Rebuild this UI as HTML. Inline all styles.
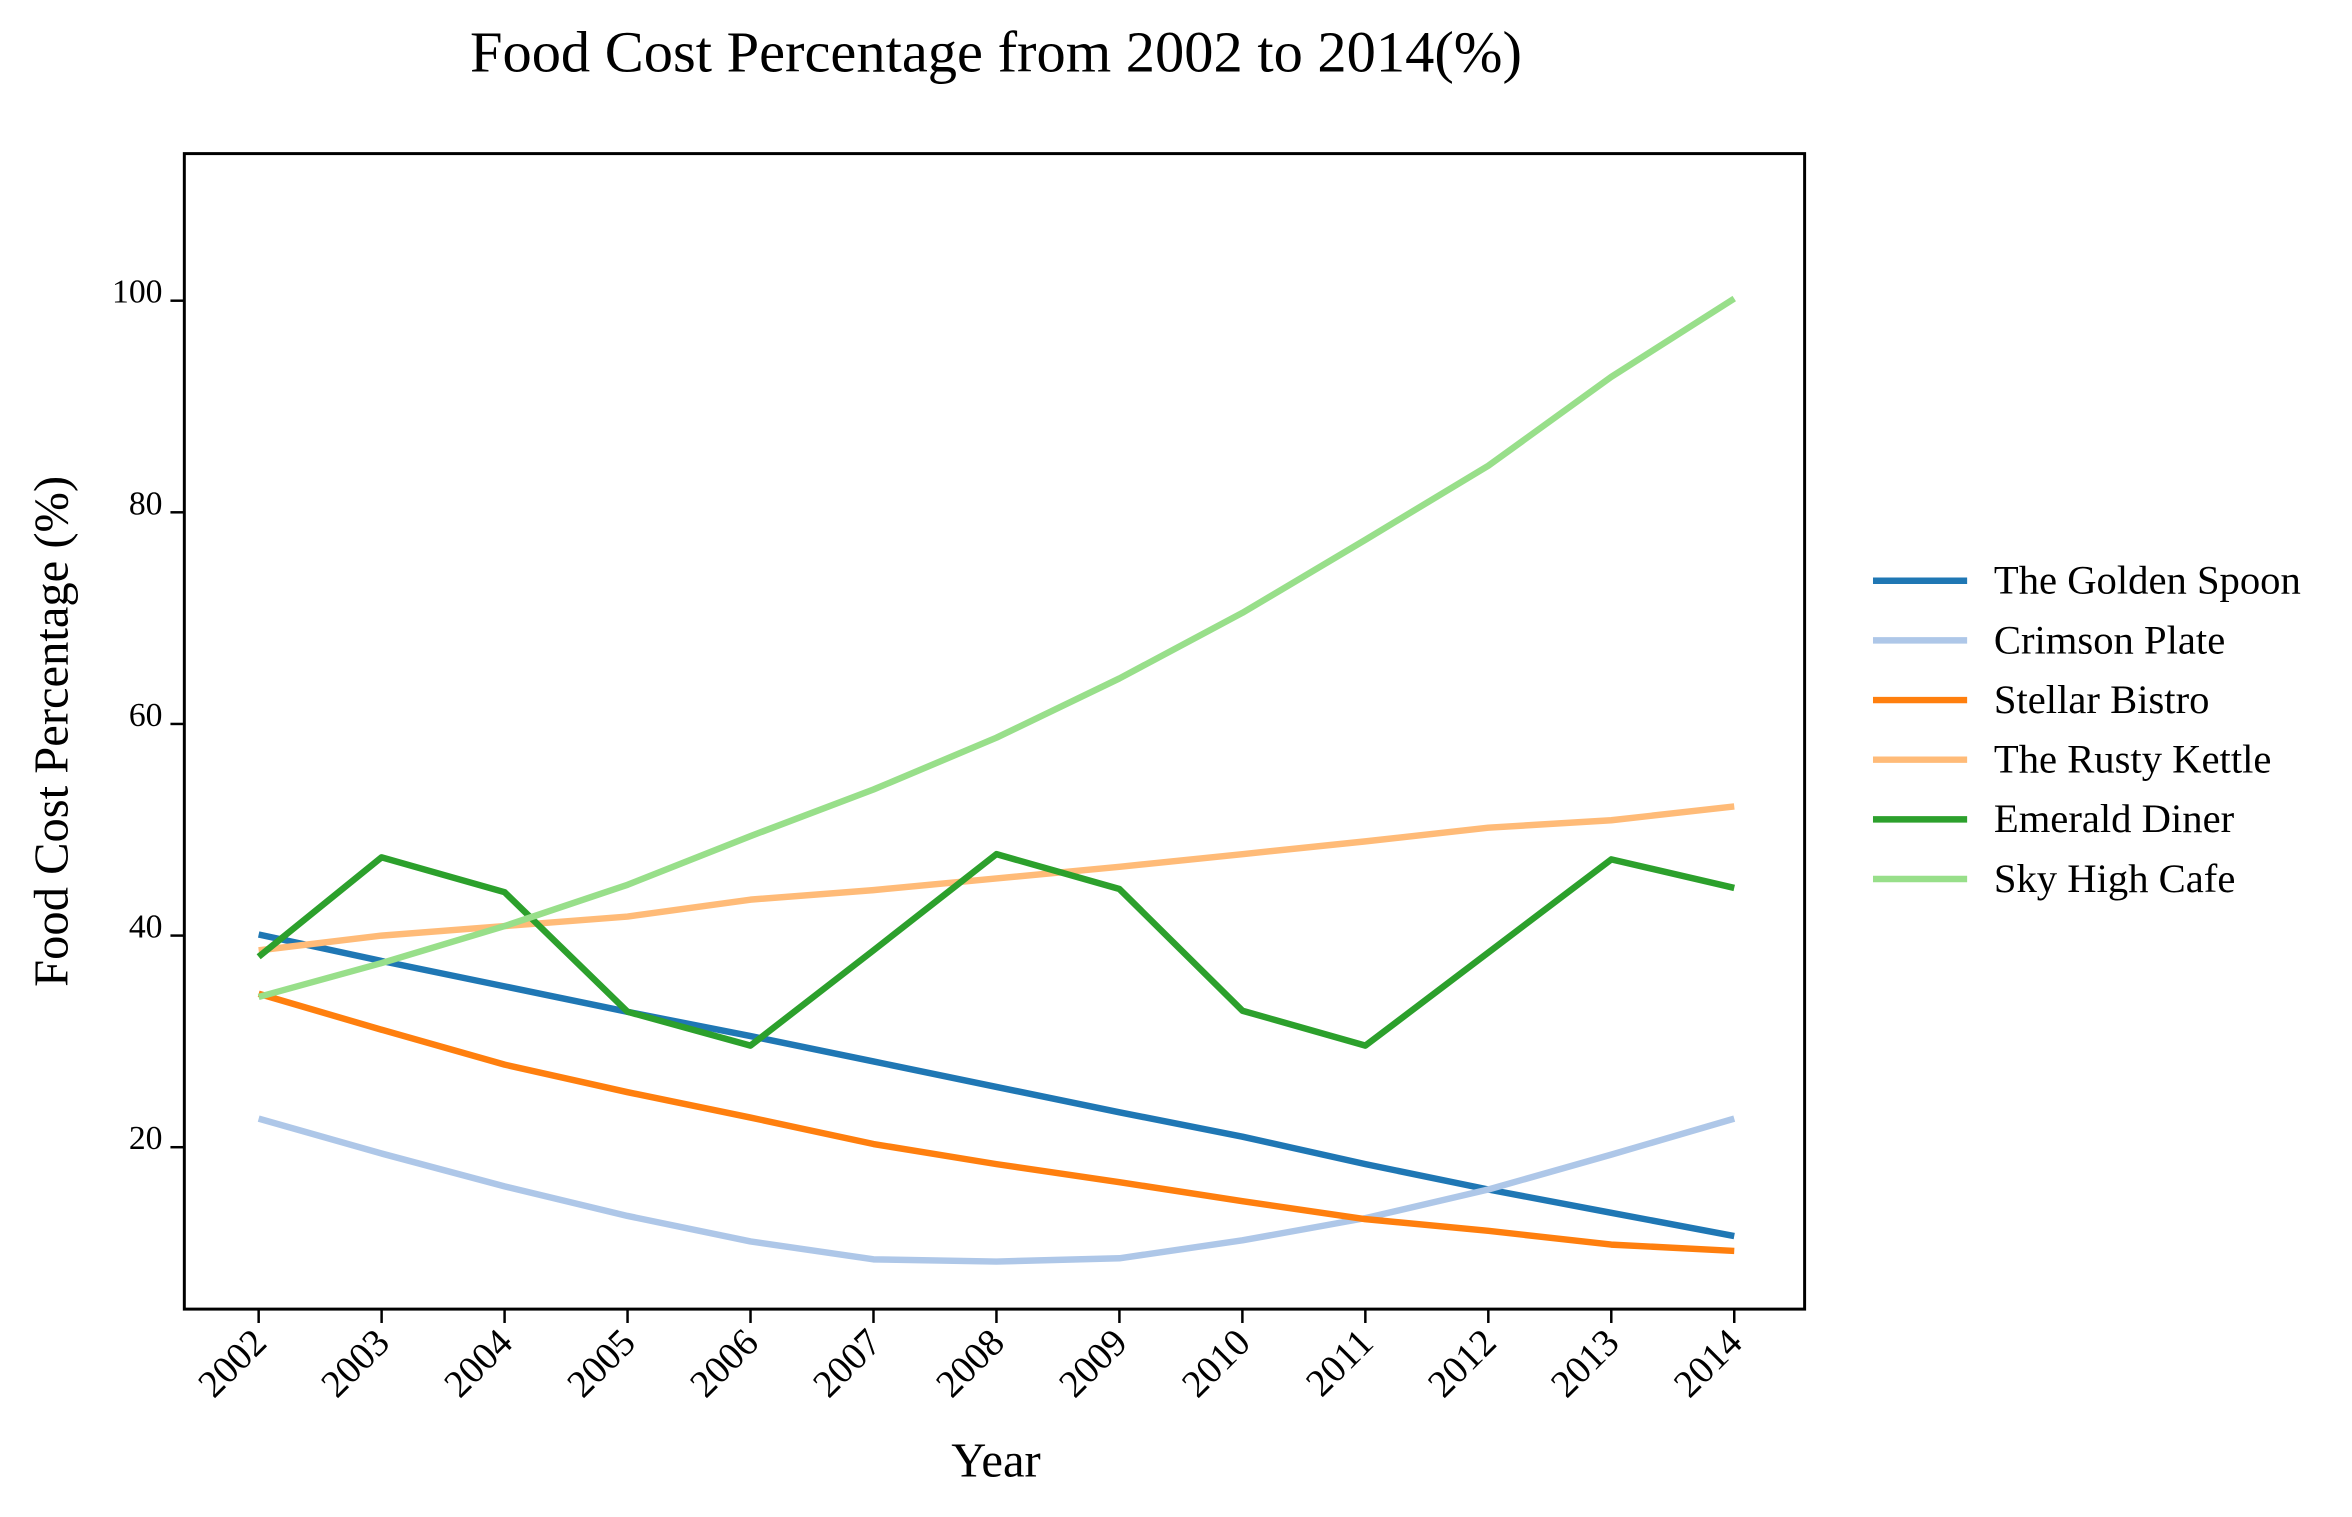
<!DOCTYPE html>
<html><head><meta charset="utf-8"><style>
html,body{margin:0;padding:0;background:#fff;}
svg{display:block;font-family:"Liberation Serif","DejaVu Serif",serif;}
</style></head><body>
<svg id="chart" width="2352" height="1517" viewBox="0 0 2352 1517" xmlns="http://www.w3.org/2000/svg">
<g transform="scale(0.991)">
<text x="1005" y="72" font-size="59" text-anchor="middle">Food Cost Percentage from 2002 to 2014(%)</text>
<g id="plot"></g>
<rect x="186" y="155" width="1635" height="1166" fill="none" stroke="#000" stroke-width="3"/>
<text transform="translate(68,738) rotate(-90)" font-size="49" text-anchor="middle">Food Cost Percentage (%)</text>
<text x="1005" y="1490" font-size="49" text-anchor="middle">Year</text>
<g id="legend"></g>
</g>
</svg>
<script>
const years=[2002,2003,2004,2005,2006,2007,2008,2009,2010,2011,2012,2013,2014];
const yTicks=[20,40,60,80,100];
const seriesNames=["The Golden Spoon","Crimson Plate","Stellar Bistro","The Rusty Kettle","Emerald Diner","Sky High Cafe"];
const goldenSpoon=[40.1,37.6,35.2,32.8,30.5,28.1,25.7,23.3,21.0,18.4,16.0,13.8,11.6];
const crimsonPlate=[22.7,19.4,16.3,13.5,11.1,9.4,9.2,9.5,11.2,13.3,16.0,19.3,22.7];
const stellarBistro=[34.5,31.1,27.8,25.2,22.8,20.3,18.4,16.7,14.9,13.2,12.1,10.8,10.2];
const rustyKettle=[38.6,40.0,40.9,41.8,43.4,44.3,45.4,46.5,47.7,48.9,50.2,50.9,52.2];
const emeraldDiner=[38.0,47.4,44.1,32.8,29.6,38.6,47.7,44.4,32.9,29.6,38.4,47.2,44.5];
const skyHighCafe=[34.2,37.4,40.9,44.8,49.4,53.8,58.7,64.3,70.5,77.4,84.4,92.8,100.2];
const seriesValues=[goldenSpoon,crimsonPlate,stellarBistro,rustyKettle,emeraldDiner,skyHighCafe];
const colors=["#1f77b4","#aec7e8","#ff7f0e","#ffbb78","#2ca02c","#98df8a"];
const NS="http://www.w3.org/2000/svg";
const L=186,R=1821,T=155,B=1321,yMin=4.7,yMax=113.9;
function xs(i){return 261+(1750-261)*i/(years.length-1);}
function ys(v){return B-(v-yMin)/(yMax-yMin)*(B-T);}
function mk(tag,attrs,parent){const e=document.createElementNS(NS,tag);for(const k in attrs)e.setAttribute(k,attrs[k]);parent.appendChild(e);return e;}
const plot=document.getElementById('plot');
yTicks.forEach(v=>{
  const y=ys(v);
  const t=mk('line',{x1:L-14,x2:L,y1:y,y2:y,stroke:'#000','stroke-width':2.5},plot);
  
  
  const tx=mk('text',{x:L-22,y:y+2,'font-size':34,'text-anchor':'end'},plot);
  tx.textContent=v;
  
  
});
years.forEach((yr,i)=>{
  const x=xs(i);
  const t=mk('line',{x1:x,x2:x,y1:B,y2:B+14,stroke:'#000','stroke-width':2.5},plot);
  
  
  const tx=mk('text',{'font-size':39,'text-anchor':'end',transform:`translate(${x+10},${B+36}) rotate(-45)`},plot);
  tx.textContent=yr;
  
  
});
seriesValues.forEach((vals,s)=>{
  const pts=vals.map((v,i)=>xs(i).toFixed(1)+','+ys(v).toFixed(1)).join(' ');
  const p=mk('polyline',{points:pts,fill:'none',stroke:colors[s],'stroke-width':6.5,'stroke-linejoin':'round'},plot);
  
  
});
const lg=document.getElementById('legend');
seriesNames.forEach((n,s)=>{
  const y=586+s*60.2;
  const ln=mk('line',{x1:1890,x2:1985,y1:y,y2:y,stroke:colors[s],'stroke-width':6.5},lg);
  
  
  const tx=mk('text',{x:2012,y:y+13,'font-size':41},lg);
  tx.textContent=n;
  
  
});
</script>
</body></html>
